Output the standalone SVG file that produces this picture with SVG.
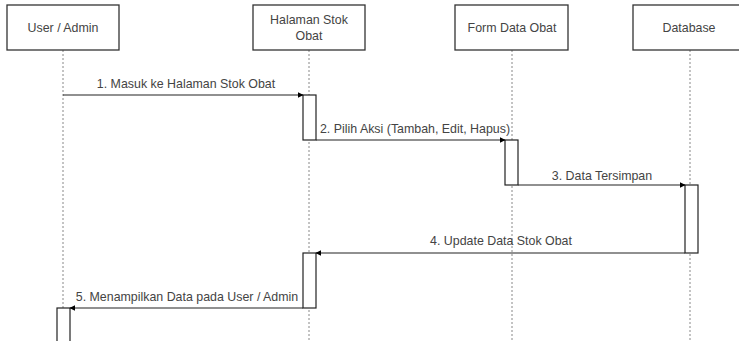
<svg xmlns="http://www.w3.org/2000/svg" width="739" height="341" viewBox="0 0 739 341">
<defs>
<style>
text{font-family:"Liberation Sans",Arial,sans-serif;font-size:12.4px;fill:#444;text-anchor:middle;dominant-baseline:central}
.box{fill:#fff;stroke:#333;stroke-width:1.3}
.life{stroke:#888;stroke-width:1;stroke-dasharray:2 2;fill:none}
.act{fill:#fff;stroke:#222;stroke-width:1.2}
.msg{stroke:#222;stroke-width:1.2;fill:none;marker-end:url(#ah)}
</style>
<marker id="ah" viewBox="0 0 10 10" refX="9" refY="5" markerWidth="6" markerHeight="6" markerUnits="userSpaceOnUse" orient="auto">
<path d="M0,0 L10,5 L0,10 z" fill="#000"/>
</marker>
</defs>
<rect width="739" height="341" fill="#fff"/>
<g id="lifelines">
<line class="life" x1="63" y1="50" x2="63" y2="341"/>
<line class="life" x1="309" y1="50" x2="309" y2="341"/>
<line class="life" x1="512" y1="50" x2="512" y2="341"/>
<line class="life" x1="690" y1="50" x2="690" y2="341"/>
</g>
<g id="user">
<rect class="box" x="7" y="5" width="112" height="45"/>
<text x="63" y="28">User / Admin</text>
<rect class="act" x="57" y="308" width="13" height="40"/>
</g>
<g id="halaman">
<rect class="box" x="253" y="5" width="112" height="45"/>
<text x="309" y="20">Halaman Stok</text>
<text x="309" y="36">Obat</text>
<rect class="act" x="303" y="95" width="13" height="45"/>
<rect class="act" x="303" y="253" width="13" height="55"/>
</g>
<g id="form">
<rect class="box" x="455" y="5" width="113" height="45"/>
<text x="512" y="28">Form Data Obat</text>
<rect class="act" x="505" y="140" width="13" height="45"/>
</g>
<g id="database">
<rect class="box" x="633" y="5" width="112" height="45"/>
<text x="689" y="28">Database</text>
<rect class="act" x="685" y="185" width="13" height="68"/>
</g>
<g id="connectors">
<line class="msg" x1="63" y1="95" x2="303" y2="95"/>
<text x="186" y="84">1. Masuk ke Halaman Stok Obat</text>
<line class="msg" x1="316" y1="140" x2="505" y2="140"/>
<text x="415" y="129">2. Pilih Aksi (Tambah, Edit, Hapus)</text>
<line class="msg" x1="518" y1="185" x2="685" y2="185"/>
<text x="602" y="176">3. Data Tersimpan</text>
<line class="msg" x1="685" y1="253" x2="316" y2="253"/>
<text x="501" y="241">4. Update Data Stok Obat</text>
<line class="msg" x1="303" y1="308" x2="70" y2="308"/>
<text x="187" y="297">5. Menampilkan Data pada User / Admin</text>
</g>
</svg>
